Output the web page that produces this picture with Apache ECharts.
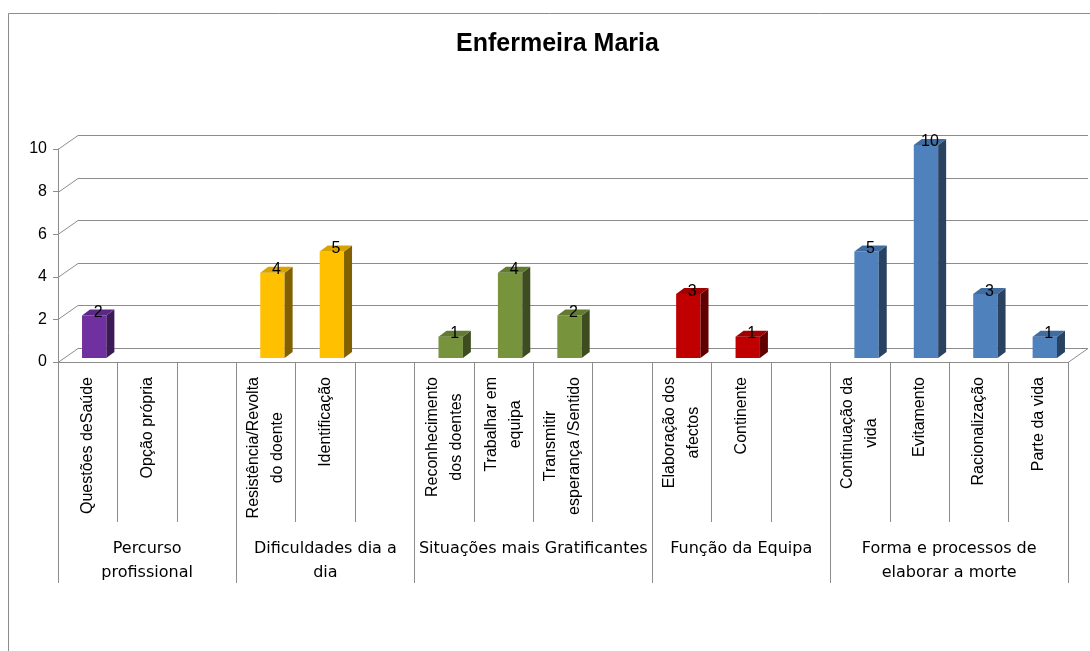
<!DOCTYPE html>
<html>
<head>
<meta charset="utf-8">
<title>Enfermeira Maria</title>
<script src="https://cdn.jsdelivr.net/npm/echarts@6/dist/echarts.min.js"></script>
<style>
  html, body { margin: 0; padding: 0; background: #fff; }
  #chart { width: 1090px; height: 651px; }
</style>
</head>
<body>
<div id="chart"></div>
<script>
// categorias (slots vazios separam os grupos)
const categories = [
  "Questões deSaúde", "Opção própria", "",
  "Resistência/Revolta\ndo doente", "Identificação", " ",
  "Reconhecimento\ndos doentes", "Trabalhar em\nequipa", "Transmitir\nesperança /Sentido", "  ",
  "Elaboração dos\nafectos", "Continente", "   ",
  "Continuação da\nvida", "Evitamento", "Racionalização", "Parte da vida",
];
const values = [2, null, null, 4, 5, null, 1, 4, 2, null, 3, 1, null, 5, 10, 3, 1];
const groupNames = [
  "Percurso\nprofissional",
  "Dificuldades dia a\ndia",
  "Situações mais Gratificantes",
  "Função da Equipa",
  "Forma e processos de\nelaborar a morte",
];
const groupStart = [0, 3, 6, 10, 13];
const groupEnd = [2, 5, 9, 12, 16];
const yTicks = [0, 2, 4, 6, 8, 10];

// cores: frente, lado, topo
const groupColors = [
  ["#7030a0", "#3c1a58", "#5c2888"],
  ["#ffc000", "#806000", "#d8a300"],
  ["#77933c", "#3e4d1f", "#627a31"],
  ["#c00000", "#600000", "#a20000"],
  ["#4f81bd", "#2a4262", "#416c9f"],
];

const lineGray = "#8c8c8c";
const depthX = 20, depthY = -14; // profundidade da parede do fundo

function groupOf(i) {
  for (let g = 0; g < groupStart.length; g++) {
    if (i >= groupStart[g] && i <= groupEnd[g]) return g;
  }
  return 0;
}

const barData = [];
values.forEach((v, i) => {
  if (v != null) barData.push([i, v, groupOf(i)]);
});

const myChart = echarts.init(document.getElementById("chart"));

function px(v) {
  return Math.round(v) + 0.5;
}

const option = {
  animation: false,
  title: {
    text: "Enfermeira Maria",
    left: 451,
    top: 27,
    textStyle: {
      fontFamily: "Liberation Sans",
      fontWeight: "bold",
      fontSize: 25,
      color: "#000",
    },
  },
  graphic: [
    {
      type: "rect",
      shape: { x: 8.5, y: 13.5, width: 1200, height: 800 },
      style: { fill: null, stroke: lineGray, lineWidth: 1 },
      silent: true,
      z: -10,
    },
  ],
  grid: {
    left: 58,
    right: 22,
    top: 149,
    bottom: 289,
    outerBoundsMode: "none",
  },
  xAxis: {
    type: "category",
    data: categories,
    axisLine: { show: true, lineStyle: { color: lineGray } },
    axisTick: { show: true, interval: 0, length: 160, lineStyle: { color: lineGray } },
    axisLabel: {
      interval: 0,
      rotate: 90,
      margin: 15,
      fontFamily: "Liberation Sans",
      fontSize: 16,
      color: "#000",
      hideOverlap: false,
      // cada linha centrada dentro do bloco
      formatter: function (value) {
        if (!value.trim()) return "";
        return value
          .split("\n")
          .map((l) => "{c|" + l + "}")
          .join("\n");
      },
      rich: {
        c: {
          align: "center",
          fontFamily: "Liberation Sans",
          fontSize: 16,
          lineHeight: 24,
          color: "#000",
        },
      },
    },
    splitLine: { show: false },
  },
  yAxis: {
    type: "value",
    min: 0,
    max: 10,
    interval: 2,
    axisLine: { show: true, lineStyle: { color: lineGray } },
    axisTick: { show: true, length: 5, lineStyle: { color: lineGray } },
    axisLabel: {
      margin: 11,
      fontFamily: "Liberation Sans",
      fontSize: 16,
      color: "#000",
    },
    splitLine: { show: false },
  },
  series: [
    {
      // grelha da parede do fundo e parede lateral
      type: "custom",
      silent: true,
      z: 1,
      data: yTicks.map((t) => [0, t]),
      renderItem: function (params, api) {
        const cs = params.coordSys;
        const y = api.coord([0, api.value(1)])[1];
        const xl = cs.x;
        const xr = cs.x + cs.width;
        const children = [
          {
            type: "line",
            shape: { x1: xl, y1: px(y), x2: xl + depthX, y2: px(y + depthY) },
            style: { stroke: lineGray, lineWidth: 1 },
          },
          {
            type: "line",
            shape: { x1: xl + depthX, y1: px(y + depthY), x2: xr + depthX, y2: px(y + depthY) },
            style: { stroke: lineGray, lineWidth: 1 },
          },
        ];
        if (api.value(1) === 0) {
          children.push({
            type: "line",
            shape: { x1: xr, y1: px(y), x2: xr + depthX, y2: px(y + depthY) },
            style: { stroke: lineGray, lineWidth: 1 },
          });
        }
        return { type: "group", children: children };
      },
    },
    {
      // colunas 3D
      type: "custom",
      z: 3,
      data: barData,
      renderItem: function (params, api) {
        const i = api.value(0);
        const v = api.value(1);
        const colors = groupColors[api.value(2)];
        const base = api.coord([i, 0]);
        const top = api.coord([i, v]);
        const w = api.size([1, 0])[0] * 0.41;
        const cx = base[0] + 6.5;
        const x0 = cx - w / 2;
        const x1 = x0 + w;
        const y0 = base[1] - 4;
        const y1 = top[1] - 4;
        const dx = 8, dy = -6;
        return {
          type: "group",
          children: [
            {
              type: "rect",
              shape: { x: x0, y: y1, width: w, height: y0 - y1 },
              style: { fill: colors[0] },
            },
            {
              type: "polygon",
              shape: { points: [[x1, y0], [x1 + dx, y0 + dy], [x1 + dx, y1 + dy], [x1, y1]] },
              style: { fill: colors[1] },
            },
            {
              type: "polygon",
              shape: { points: [[x0, y1], [x0 + dx, y1 + dy], [x1 + dx, y1 + dy], [x1, y1]] },
              style: { fill: colors[2] },
            },
            {
              type: "text",
              z2: 10,
              style: {
                text: String(v),
                x: cx + 4,
                y: y1 - 3,
                align: "center",
                verticalAlign: "middle",
                fontFamily: "Liberation Sans",
                fontSize: 16,
                fill: "#000",
              },
            },
          ],
        };
      },
    },
    {
      // rótulos dos grupos e separadores
      type: "custom",
      silent: true,
      z: 2,
      data: groupStart.map((s, k) => [s, 0, groupEnd[k], k]),
      renderItem: function (params, api) {
        const w = api.size([1, 0])[0];
        const left = api.coord([api.value(0), 0])[0] - w / 2;
        const right = api.coord([api.value(2), 0])[0] + w / 2;
        const yb = api.coord([0, 0])[1];
        const k = api.value(3);
        const children = [
          {
            type: "line",
            shape: { x1: px(left), y1: yb, x2: px(left), y2: yb + 221 },
            style: { stroke: lineGray, lineWidth: 1 },
          },
          {
            type: "text",
            style: {
              text: groupNames[k],
              x: (left + right) / 2,
              y: yb + 175,
              align: "center",
              verticalAlign: "top",
              fontFamily: "DejaVu Sans",
              fontSize: 16,
              lineHeight: 24,
              fill: "#000",
            },
          },
        ];
        if (k === groupNames.length - 1) {
          children.push({
            type: "line",
            shape: { x1: px(right), y1: yb, x2: px(right), y2: yb + 221 },
            style: { stroke: lineGray, lineWidth: 1 },
          });
        }
        return { type: "group", children: children };
      },
    },
  ],
};

myChart.setOption(option);
window.addEventListener("resize", function () {
  myChart.resize();
});
</script>
</body>
</html>
